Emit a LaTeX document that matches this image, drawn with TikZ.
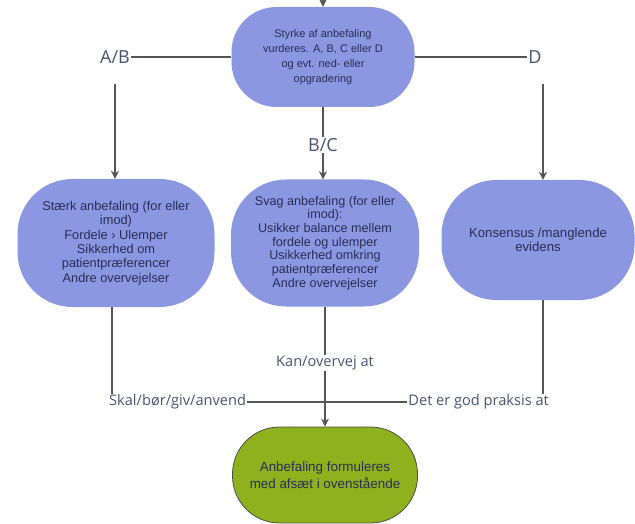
\documentclass[tikz,border=0pt]{standalone}
\usepackage{fontspec}
\setmainfont{Liberation Sans}
\newfontfamily\labelfont{Open Sans}
\usetikzlibrary{arrows.meta,positioning}

\definecolor{boxblue}{RGB}{139,152,225}
\definecolor{boxgreen}{RGB}{142,178,30}
\definecolor{boxtext}{RGB}{40,46,84}
\definecolor{labeltext}{RGB}{74,82,116}
\definecolor{linegray}{RGB}{85,85,85}

\tikzset{
    box/.style={fill=boxblue, text=boxtext, align=center, inner sep=0pt,
        font=\fontsize{12.6}{14}\selectfont},
    greenbox/.style={box, fill=boxgreen, draw=black!70, line width=0.8pt},
    branch/.style={text=labeltext, inner sep=1pt, font=\labelfont\fontsize{18}{20}\selectfont},
    wording/.style={text=labeltext, inner sep=1pt, font=\labelfont\fontsize{14.6}{16}\selectfont},
    link/.style={draw=linegray, line width=1.3pt},
    arrowlink/.style={link, -{Stealth[length=8pt,width=8pt]}}
}

\begin{document}
\begin{tikzpicture}[x=1pt,y=-1pt]
        \useasboundingbox (0,0) rectangle (635,524);
        % boxes
        \node (styrke) [box, font=\fontsize{11}{15}\selectfont, minimum width=183, minimum height=100, rounded corners=45] at (323,57)
            {Styrke af anbefaling\\vurderes. A, B, C eller D\\og evt. ned- eller\\opgradering};
        \node (staerk) [box, font=\fontsize{12.8}{14.4}\selectfont, minimum width=197, minimum height=128, rounded corners=55] at (116,243)
            {Stærk anbefaling (for eller\\imod)\\Fordele › Ulemper\\Sikkerhed om\\patientpræferencer\\Andre overvejelser};
        \node (svag) [box, font=\fontsize{12.6}{13.7}\selectfont, minimum width=188, minimum height=127, rounded corners=55] at (325,243)
            {Svag anbefaling (for eller\\imod):\\Usikker balance mellem\\fordele og ulemper\\Usikkerhed omkring\\patientpræferencer\\Andre overvejelser};
        \node (konsensus) [box, font=\fontsize{13.2}{14.5}\selectfont, minimum width=193, minimum height=120, rounded corners=55] at (538,240)
            {Konsensus /manglende\\evidens};
        \node (formuleres) [greenbox, font=\fontsize{13.4}{16.5}\selectfont, minimum width=185, minimum height=96, rounded corners=47] at (325,475)
            {Anbefaling formuleres\\med afsæt i ovenstående};
        % labels
        \node (ab) [branch] at (115,57) {A/B};
        \node (bc) [branch] at (323,145) {B/C};
        \node (d) [branch] at (535,57) {D};
        \node (kan) [wording] at (325,363) {Kan/overvej at};
        \node (skal) [wording, anchor=west] at (108,402) {Skal/bør/giv/anvend};
        \node (praksis) [wording, anchor=east] at (550,402) {Det er god praksis at};
        \coordinate (start) at (323,0);
        \coordinate (dfoot) at ([xshift=8pt]d.south);
        % connectors
        \draw[arrowlink] (start) -- (styrke.north);
        \draw[link] (styrke.west) -- (ab.east);
        \draw[link] (styrke.east) -- (d.west);
        \draw[arrowlink, shorten <=19pt] (ab.south) -- (staerk.north -| ab.south);
        \draw[arrowlink, shorten <=19pt] (dfoot) -- (konsensus.north -| dfoot);
        \draw[link] (styrke.south) -- (bc.north);
        \draw[arrowlink] (bc.south) -- (styrke.south |- svag.north);
        \draw[link] (staerk.south -| 112,0) -- (112,0 |- skal.north);
        \draw[link] (konsensus.south -| 543,0) -- (543,0 |- praksis.north);
        \draw[link] (svag.south -| kan.north) -- (kan.north);
        \draw[arrowlink] (kan.south) -- (formuleres.north);
        \draw[link] (skal.east) -- (skal.east -| kan.south);
        \draw[link] (praksis.west) -- (praksis.west -| kan.south);
    \end{tikzpicture}
\end{document}
